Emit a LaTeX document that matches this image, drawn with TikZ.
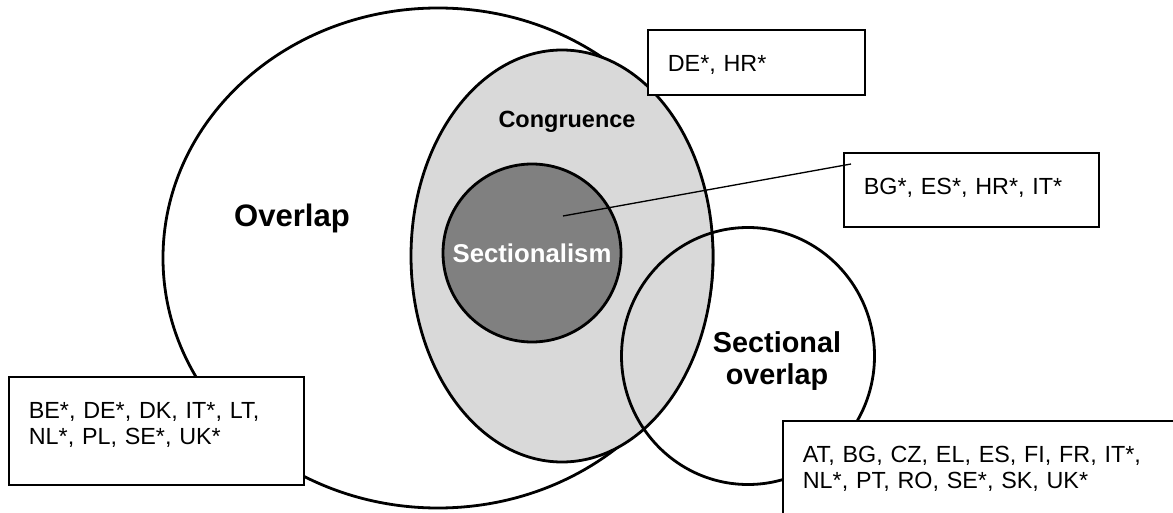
\documentclass[tikz,border=0pt]{standalone}
\usepackage{fontspec}
\setmainfont{Liberation Sans}
\usepackage{tikz}
\usetikzlibrary{shapes.geometric}
\tikzset{
    set/.style={ellipse,draw,line width=2.1pt,inner sep=0pt},
    tbox/.style={rectangle,draw,fill=white,line width=1.3pt,anchor=north west,
        inner xsep=15pt,inner ysep=0pt,align=left,text height=31pt,
        font=\fontsize{17.5}{19.5}\selectfont},
    setlabel/.style={font=\bfseries,align=center},
    pinline/.style={line width=1pt}
}

\begin{document}
\begin{tikzpicture}[x=0.75pt,y=-0.75pt]
\useasboundingbox (0,0) rectangle (1173,513);

\node[set,minimum width=412.5pt,minimum height=375pt] (overlap) at (438,258) {};
\node[set,fill=black!15,minimum width=226.5pt,minimum height=309pt] (congr) at (562,256) {};
\node[set,circle,fill=black!50,minimum size=133.5pt,text=white,
      font=\fontsize{19.3}{22}\selectfont\bfseries] (section) at (532,253) {Sectionalism};
\node[set,minimum width=189.75pt,minimum height=192.75pt] (secover) at (748,356) {};

\node[setlabel,font=\fontsize{23.3}{28}\selectfont\bfseries] (l1) at (292,218) {Overlap};
\node[setlabel,font=\fontsize{17.6}{21}\selectfont\bfseries] (l2) at (567,122) {Congruence};
\node[setlabel,font=\fontsize{21.6}{24}\selectfont\bfseries] (l3) at (777,361) {Sectional\\overlap};

\node[tbox,text width=132.75pt,text depth=17.75pt] (b1) at (647,29) {DE*, HR*};
\node[tbox,text width=161.25pt,text depth=24.5pt] (b2) at (843,152) {BG*, ES*, HR*, IT*};
\node[tbox,text width=191.25pt,text depth=50pt] (b3) at (8,376) {BE*, DE*, DK, IT*, LT,\\NL*, PL, SE*, UK*};
\node[tbox,text width=285pt,text depth=59pt] (b4) at (782,420) {AT, BG, CZ, EL, ES, FI, FR, IT*,\\NL*, PT, RO, SE*, SK, UK*};

\coordinate (pin) at (563,216);
\coordinate (tip) at (851,164);
\draw[pinline] (pin) -- (tip);

\end{tikzpicture}
\end{document}
